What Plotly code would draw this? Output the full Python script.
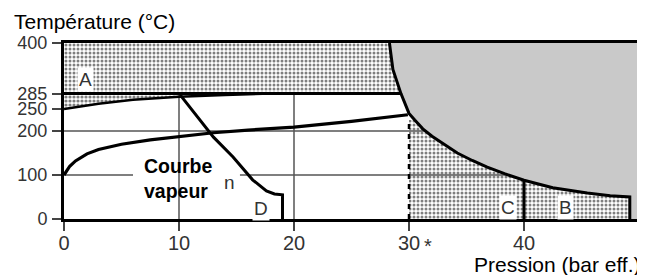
import plotly.graph_objects as go

# ---- data (pressure in bar eff., temperature in °C) ----
x_ticks = [0, 10, 20, 30, 40, 50]
x_ticktext = ["0", "10", "20", "30", "40", "50"]
y_ticks = [0, 100, 200, 250, 285, 400]
y_ticktext = ["0", "100", "200", "250", "285", "400"]

# boundary of the grey (forbidden) zone
limit_p = [28.3, 28.6, 29.3, 30.0, 30.5, 31.2, 32.0, 33.0, 34.2, 35.5, 36.8, 38.3, 40.0, 42.5, 45.5, 47.5, 49.2]
limit_t = [400, 340, 285, 240, 225, 205, 188, 170, 150, 133, 118, 103, 88, 71, 59, 53, 50]

# lower edge of the 250 -> 285 band
band_p = [0, 3, 6, 10, 14, 18]
band_t = [250, 262, 271, 278, 282, 285]

# steam curve ("Courbe vapeur")
vap_p = [0, 0.5, 1, 2, 3, 5, 7.5, 10, 13, 16, 20, 25, 29.9]
vap_t = [100, 120, 132, 148, 158, 170, 180, 187, 196, 202, 209, 222, 237]

# curve n / zone D
n_p = [10.1, 11.5, 13.0, 14.7, 16.4, 17.6, 18.3, 19.0, 19.0]
n_t = [282, 235, 186, 141, 89, 64, 57, 55, 0]

upper_t = 285
top_t = 400
c_left_p = 30
c_top_t = 225
cb_split_p = 40
b_right_p = 49.2
max_p = 50

grid_v_p = [10, 20]
grid_h_t = [100, 200]
grid100_gap = [6.0, 15.3]

zone_labels = ["A", "D", "C", "B"]
zone_p = [1.85, 17.1, 38.6, 43.6]
zone_t = [316, 25, 27, 27]

# page layout in pixels; the browser page adds an 8px body margin
OFF = 8
W, H = 645, 275
PX0, PX1, PY0, PY1 = 64, 639, 43, 219   # plot area in the page
L, T = PX0 - OFF, PY0 - OFF
R, B = W - PX1, H - PY1
FW, FH = W - OFF, H - OFF
PW, PH = PX1 - PX0, PY1 - PY0

fig = go.Figure()
dots = dict(shape=".", size=4, solidity=0.45, fgcolor="black", bgcolor="white")

# band between rising line and 285
fig.add_trace(go.Scatter(x=band_p + [0], y=band_t + [upper_t], fill="toself", mode="none",
                         fillcolor="white", fillpattern=dict(shape=".", size=4, solidity=0.5,
                                                             fgcolor="black", bgcolor="white")))
# zone A
ia = limit_t.index(upper_t)
fig.add_trace(go.Scatter(x=[0, 0] + limit_p[:ia + 1], y=[upper_t, top_t] + limit_t[:ia + 1],
                         fill="toself", mode="none", fillpattern=dots))
# zones C + B
ic = limit_t.index(c_top_t)
fig.add_trace(go.Scatter(x=[c_left_p, c_left_p] + limit_p[ic:] + [b_right_p],
                         y=[0, c_top_t] + limit_t[ic:] + [0],
                         fill="toself", mode="none", fillpattern=dots))

# grid lines
gl = dict(color="#555555", width=1.5)
for gp in grid_v_p:
    fig.add_trace(go.Scatter(x=[gp, gp], y=[0, upper_t], mode="lines", line=gl))
fig.add_trace(go.Scatter(x=[0, max_p], y=[grid_h_t[1]] * 2, mode="lines", line=gl))
fig.add_trace(go.Scatter(x=[0, grid100_gap[0], None, grid100_gap[1], max_p],
                         y=[grid_h_t[0], grid_h_t[0], None, grid_h_t[0], grid_h_t[0]],
                         mode="lines", line=gl))

# grey zone
fig.add_trace(go.Scatter(x=limit_p + [b_right_p, max_p, max_p], y=limit_t + [0, 0, top_t],
                         fill="toself", mode="none", fillcolor="#c9c9c9"))

# black lines
bl = dict(color="black", width=3)
fig.add_trace(go.Scatter(x=limit_p + [b_right_p], y=limit_t + [0], mode="lines", line=bl))
fig.add_trace(go.Scatter(x=[0, limit_p[ia]], y=[upper_t, upper_t], mode="lines", line=bl))
fig.add_trace(go.Scatter(x=band_p, y=band_t, mode="lines", line=dict(color="black", width=2.5)))
fig.add_trace(go.Scatter(x=vap_p, y=vap_t, mode="lines", line=dict(color="black", width=3.2)))
fig.add_trace(go.Scatter(x=n_p, y=n_t, mode="lines", line=bl))
i40 = limit_p.index(cb_split_p)
fig.add_trace(go.Scatter(x=[cb_split_p, cb_split_p], y=[0, limit_t[i40]], mode="lines", line=bl))
fig.add_trace(go.Scatter(x=[c_left_p, c_left_p], y=[0, c_top_t], mode="lines",
                         line=dict(color="black", width=2.5, dash="5px,5px")))

ann = []
for lab, px, ty in zip(zone_labels, zone_p, zone_t):
    ann.append(dict(x=px, y=ty, xref="x", yref="y", text=lab, showarrow=False, bgcolor="white",
                    font=dict(size=19, color="#333333"), borderpad=1))
ann.append(dict(x=14.4, y=84, xref="x", yref="y", text="n", showarrow=False,
                font=dict(size=19, color="#333333")))
ann.append(dict(x=6.8, y=93, xref="x", yref="y", text="<b>Courbe<br>vapeur</b>", showarrow=False,
                xanchor="left", align="left", font=dict(size=19.5, color="black")))
ann.append(dict(x=30, y=0, xref="x", yref="y", text="*", showarrow=False, xanchor="left",
                yanchor="top", xshift=13, yshift=-14, font=dict(size=20, color="#333333")))
ann.append(dict(x=(12 - PX0) / PW, y=(PY1 - 22) / PH, xref="paper", yref="paper",
                yanchor="middle", xanchor="left", text="Température (°C)", showarrow=False,
                font=dict(size=21, color="black")))
ann.append(dict(x=(643 - PX0) / PW, y=(PY1 - 264) / PH, xref="paper", yref="paper",
                yanchor="middle", xanchor="right", text="Pression (bar eff.)", showarrow=False,
                font=dict(size=21, color="black")))
fig.update_layout(annotations=ann)

fig.update_layout(
    width=FW, height=FH, showlegend=False,
    margin=dict(l=L, r=R, t=T, b=B, autoexpand=False),
    plot_bgcolor="white", paper_bgcolor="white",
    font=dict(family="Liberation Sans, Arial, sans-serif"),
    xaxis=dict(range=[0, max_p], tickvals=x_ticks, ticktext=x_ticktext, showgrid=False,
               zeroline=False, showline=True, linewidth=3, linecolor="black", mirror=True,
               ticks="outside", ticklen=9, tickwidth=1.5, tickcolor="#444444", automargin=False,
               ticklabelstandoff=-5, tickfont=dict(size=20, color="#333333")),
    yaxis=dict(range=[0, top_t], tickvals=y_ticks, ticktext=y_ticktext, showgrid=False,
               zeroline=False, showline=True, linewidth=3, linecolor="black", mirror=True,
               ticks="outside", ticklen=9, tickwidth=1.5, tickcolor="#444444", automargin=False,
               ticklabelstandoff=1, tickfont=dict(size=18, color="#333333")),
)

fig.write_html("out.html")
